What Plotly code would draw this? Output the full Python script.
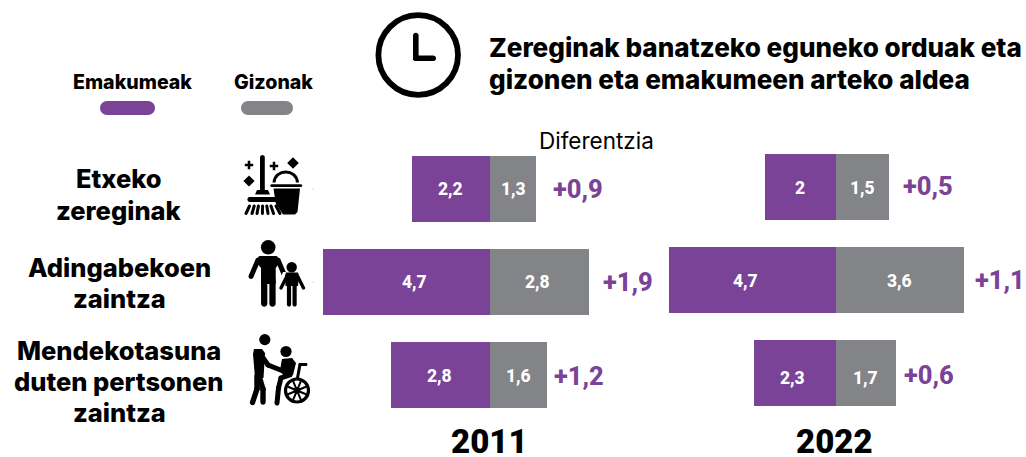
import math
import plotly.graph_objects as go

# ---------- data ----------
categories = ["Etxeko zereginak", "Adingabekoen zaintza", "Mendekotasuna duten pertsonen zaintza"]
category_lines = [["Etxeko", "zereginak"], ["Adingabekoen", "zaintza"],
                  ["Mendekotasuna", "duten pertsonen", "zaintza"]]
women_2011 = [2.2, 4.7, 2.8]
men_2011 = [1.3, 2.8, 1.6]
diff_2011 = [0.9, 1.9, 1.2]
women_2022 = [2.0, 4.7, 2.3]
men_2022 = [1.5, 3.6, 1.7]
diff_2022 = [0.5, 1.1, 0.6]
years = ["2011", "2022"]
series_names = ["Emakumeak", "Gizonak"]
title_lines = ["Zereginak banatzeko eguneko orduak eta", "gizonen eta emakumeen arteko aldea"]
diff_title = "Diferentzia"

# ---------- style ----------
W, H = 1026, 457
PURPLE = "#7B4397"
GREY = "#838487"
BLACK = "#000000"
FONT = "Roboto"
HEAD = "Inter"
SCALE = 35.5  # px per hour
panel = {
    "2011": dict(cx=490, top=142),
    "2022": dict(cx=835.5, top=140),
}
ROW = 93
BAR = 66

def fmt(v):
    s = f"{v:g}".replace(".", ",")
    return s

fig = go.Figure()

def add_panel(idx, year, women, men):
    p = panel[year]
    x0, x1 = p["cx"] - 190, p["cx"] + 190
    xa, ya = f"x{idx}" if idx > 1 else "x", f"y{idx}" if idx > 1 else "y"
    fig.add_trace(go.Bar(y=categories, x=[-v for v in women], orientation="h", name=series_names[0],
                         marker=dict(color=PURPLE, line_width=0), width=BAR / ROW, xaxis=xa, yaxis=ya,
                         showlegend=False, hoverinfo="skip"))
    fig.add_trace(go.Bar(y=categories, x=men, orientation="h", name=series_names[1],
                         marker=dict(color=GREY, line_width=0), width=BAR / ROW, xaxis=xa, yaxis=ya,
                         showlegend=False, hoverinfo="skip"))
    suffix = str(idx) if idx > 1 else ""
    fig.update_layout(**{
        f"xaxis{suffix}": dict(domain=[x0 / W, x1 / W], range=[-190 / SCALE, 190 / SCALE], visible=False,
                               anchor=ya),
        f"yaxis{suffix}": dict(domain=[1 - (p["top"] + 3 * ROW) / H, 1 - p["top"] / H],
                               range=[2.5, -0.5], type="category", categoryorder="array",
                               categoryarray=categories, visible=False, anchor=xa),
    })

add_panel(1, "2011", women_2011, men_2011)
add_panel(2, "2022", women_2022, men_2022)

# overlay axes in page pixels (only decoration and free text hang on this)
fig.add_trace(go.Scatter(x=[0], y=[0], mode="markers", marker_opacity=0, xaxis="x3", yaxis="y3",
                         showlegend=False, hoverinfo="skip"))
fig.update_layout(
    xaxis3=dict(domain=[0, 1], range=[0, W], visible=False, anchor="y3"),
    yaxis3=dict(domain=[0, 1], range=[H, 0], visible=False, anchor="x3"),
)

annotations = []
shapes = []

def text(x, y, s, size, color=BLACK, weight=700, anchor="center", family=HEAD, height=None):
    annotations.append(dict(x=x, y=y, xref="x3", yref="y3", text=s, showarrow=False, xanchor=anchor,
                            yanchor="middle", align=anchor, height=height,
                            font=dict(family=family, size=size, color=color, weight=weight),
                            borderpad=0, borderwidth=0))

def data_label(xa, ya, x, cat, s, size, color, dx=0, dy=0, anchor="center", weight=700):
    annotations.append(dict(x=x, y=cat, xref=xa, yref=ya, text=s, showarrow=False, xanchor=anchor,
                            yanchor="middle", xshift=dx, yshift=-dy,
                            font=dict(family=FONT, size=size, color=color, weight=weight)))

# bar labels: offsets per row (px) relative to the bar centre
women_dx = {"2011": [0, 8, -1], "2022": [0, -7, -2]}
men_dx = {"2011": [0, -2, 0], "2022": [0, 0, 0]}
label_dy = {"2011": [0, 0, 1], "2022": [1, 1, 5]}
diff_gap = {"2011": [15, 12, 5], "2022": [12, 10, 6]}
diff_dy = {"2011": [0, 0, 1], "2022": [-1, 0, 2]}

for idx, year, women, men, diff in [(1, "2011", women_2011, men_2011, diff_2011),
                                    (2, "2022", women_2022, men_2022, diff_2022)]:
    xa, ya = ("x", "y") if idx == 1 else ("x2", "y2")
    for i, cat in enumerate(categories):
        data_label(xa, ya, -women[i] / 2, cat, fmt(women[i]), 17.5, "#FFFFFF", women_dx[year][i], label_dy[year][i], weight=800)
        data_label(xa, ya, men[i] / 2, cat, fmt(men[i]), 17.5, "#FFFFFF", men_dx[year][i], label_dy[year][i], weight=800)
        data_label(xa, ya, men[i], cat, "+" + fmt(diff[i]), 25.5, PURPLE, diff_gap[year][i], diff_dy[year][i], "left", weight=800)

# free text
text(132.5, 81.5, series_names[0], 19.6, weight=800)
text(273, 81.5, series_names[1], 19.6, weight=800)
text(488.5, 47, title_lines[0], 26.1, anchor="left", weight=800)
text(488.5, 79, title_lines[1], 26.1, anchor="left", weight=800)
text(596.5, 140, diff_title, 22.5, weight=400)
text(489, 441, years[0], 33, weight=900, family=FONT, height=31)
text(834, 441, years[1], 33, weight=900, family=FONT, height=31)
line_pos = [[178, 210], [267, 298], [350, 381, 412]]
for lines, ys in zip(category_lines, line_pos):
    for s, y in zip(lines, ys):
        text(119, y, s, 25.5, weight=800)

# ---------- decoration helpers ----------
def poly(pts, color=BLACK):
    d = "M " + " L ".join(f"{a:.2f} {b:.2f}" for a, b in pts) + " Z"
    shapes.append(dict(type="path", path=d, xref="x3", yref="y3", fillcolor=color, line_width=0, layer="above"))

def cap(a, b, w, color=BLACK):
    (x1, y1), (x2, y2) = a, b
    ang = math.atan2(y2 - y1, x2 - x1)
    r = w / 2
    pts = []
    for k in range(9):
        t = ang + math.pi / 2 + k * math.pi / 8
        pts.append((x1 + r * math.cos(t), y1 + r * math.sin(t)))
    for k in range(9):
        t = ang - math.pi / 2 + k * math.pi / 8
        pts.append((x2 + r * math.cos(t), y2 + r * math.sin(t)))
    poly(pts, color)

def stroke(pts, w, color=BLACK):
    for a, b in zip(pts, pts[1:]):
        cap(a, b, w, color)

def circle(cx, cy, r, color=BLACK):
    shapes.append(dict(type="circle", x0=cx - r, x1=cx + r, y0=cy - r, y1=cy + r, xref="x3", yref="y3",
                       fillcolor=color, line_width=0, layer="above"))

def ring(cx, cy, r, w, color=BLACK):
    shapes.append(dict(type="circle", x0=cx - r, x1=cx + r, y0=cy - r, y1=cy + r, xref="x3", yref="y3",
                       fillcolor="rgba(0,0,0,0)", line=dict(color=color, width=w), layer="above"))

def curve(d, w, color=BLACK):
    shapes.append(dict(type="path", path=d, xref="x3", yref="y3", fillcolor="rgba(0,0,0,0)",
                       line=dict(color=color, width=w), layer="above"))

def diamond(cx, cy, r):
    poly([(cx, cy - r), (cx + r, cy), (cx, cy + r), (cx - r, cy)])

def plus(cx, cy, r):
    q = r * 0.3
    poly([(cx - q, cy - r), (cx + q, cy - r), (cx + q, cy - q), (cx + r, cy - q), (cx + r, cy + q), (cx + q, cy + q),
          (cx + q, cy + r), (cx - q, cy + r), (cx - q, cy + q), (cx - r, cy + q), (cx - r, cy - q), (cx - q, cy - q)])

# legend pills
cap((107, 108), (148, 108), 14, PURPLE)
cap((248, 108), (286, 108), 14, GREY)

# clock
ring(418.2, 55, 39.8, 5.8)
stroke([(415.8, 35.5), (415.8, 58.3), (433.2, 58.3)], 5.6)

# broom + bucket
plus(249, 165, 4.2)
diamond(249, 181, 5.6)
plus(274, 166, 4.2)
diamond(293, 163, 5.8)
curve("M 274 182.5 C 275 168.5, 296.5 168.5, 297.5 182.5", 3)
stroke([(271.5, 185.6), (301, 185.6)], 2.6)
poly([(273.5, 188.5), (300, 188.5), (297.5, 212), (295, 214.5), (280, 214.5), (277, 212)])
poly([(258, 192), (268, 192), (284, 216), (242, 216), (246, 196)], "#FFFFFF")
stroke([(262.4, 157.5), (262.4, 190)], 4.8)
poly([(257, 190), (268, 190), (270, 194.5), (255, 194.5)])
stroke([(250, 199.5), (275.5, 199.5)], 5.2)
for t, b in [(249.5, 246), (254.2, 252), (258.4, 257), (262.6, 262.4), (266.8, 268), (271, 273.5), (276, 280)]:
    stroke([(t, 206), (b, 213.5)], 3)

# adult + child
circle(268.2, 247.3, 7.3)
stroke([(258, 260), (251, 276.5)], 5)
stroke([(278, 260), (285, 276.5)], 5)
poly([(259, 256), (277, 256), (280, 262), (275.7, 268), (275.7, 284), (261, 284), (261, 268), (256, 262)])
cap((264.2, 280), (264.2, 303.5), 6.3)
cap((272.5, 280), (272.5, 303.5), 6.3)
poly([(283, 272), (298.5, 272), (306, 288), (302, 291), (298, 284), (298, 309), (282, 309), (282, 291), (276, 288)], "#FFFFFF")
circle(291.7, 267.3, 5.2)
stroke([(287, 276), (281, 288)], 3.4)
stroke([(297.5, 276), (303.5, 288)], 3.4)
poly([(286, 272.5), (298, 272.5), (299, 276), (298, 286), (285.5, 286), (285, 276)])
cap((289, 285), (289, 304.5), 4.2)
cap((294.6, 285), (294.6, 304.5), 4.2)

# carer + wheelchair
circle(264.8, 339.6, 5.6)
poly([(254, 349), (262, 349), (265, 353), (263.5, 378), (255, 378), (253, 354)])
stroke([(259, 352), (268, 365), (283, 371)], 5)
stroke([(259, 376), (263, 389), (263, 402)], 5.4)
stroke([(257, 376), (257, 389), (252.5, 402.5)], 5.4)
circle(286, 351.5, 5.6)
poly([(282, 359), (292, 358), (296, 363), (293, 375), (284, 377), (280, 370)])
stroke([(290, 375), (281, 378), (278.5, 388), (277, 403)], 5)
ring(297, 390.5, 11.5, 3.2)
circle(297, 390.5, 3.2)
for k in range(4):
    t = k * math.pi / 4 + math.pi / 8
    stroke([(297 - 11 * math.cos(t), 390.5 - 11 * math.sin(t)), (297 + 11 * math.cos(t), 390.5 + 11 * math.sin(t))], 2)
stroke([(297.5, 378), (300, 364.5), (306, 364.5)], 3)

# tiny stray dots
for y in (189, 282):
    circle(313, y, 0.6, "#B0B0B0")

fig.update_layout(
    width=W, height=H, margin=dict(l=0, r=0, t=0, b=0, pad=0), autosize=False,
    paper_bgcolor="#FFFFFF", plot_bgcolor="rgba(0,0,0,0)", barmode="relative", bargap=0,
    showlegend=False, annotations=annotations, shapes=shapes,
)

fig.write_html("out.html", config={"displayModeBar": False},
               post_script="document.body.style.margin='0';document.body.style.overflow='hidden';")
